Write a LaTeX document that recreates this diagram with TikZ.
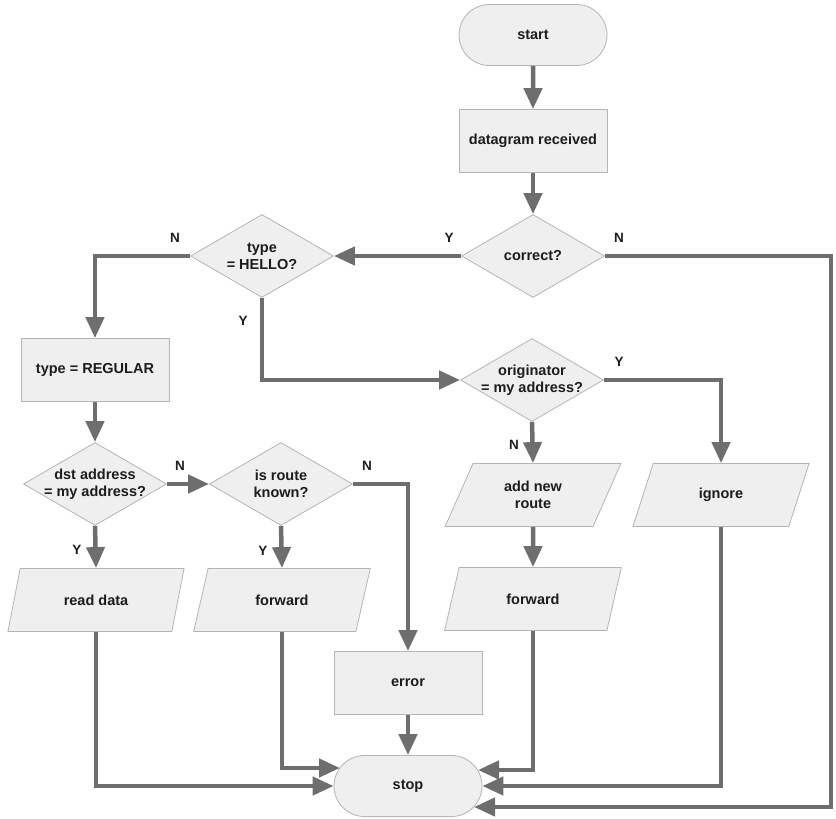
\documentclass[tikz,border=0pt]{standalone}
\usepackage{fontspec}
\setmainfont{Liberation Sans}
\usetikzlibrary{shapes.geometric,shapes.misc,arrows.meta,calc}
\definecolor{boxfill}{HTML}{EFEFEF}
\definecolor{boxline}{HTML}{B4B4B4}
\definecolor{conn}{HTML}{6E6E6E}
\definecolor{txt}{HTML}{1C1C1C}
\begin{document}
\begin{tikzpicture}[x=1pt,y=-1pt,
  every node/.style={font=\fontsize{14.5}{17}\selectfont\bfseries, text=txt, align=center},
  base/.style={draw=boxline, fill=boxfill, line width=0.8pt, inner sep=0pt},
  term/.style={base, rounded rectangle, minimum width=148pt, minimum height=61pt},
  proc/.style={base, rectangle, minimum width=148pt, minimum height=63pt},
  decide/.style={base, diamond, aspect=1.73, inner sep=-6pt, minimum width=143pt, minimum height=83pt},
  io/.style={base, trapezium, trapezium left angle=64, trapezium right angle=116,
             trapezium stretches=true, minimum width=177pt, minimum height=63pt},
  arr/.style={draw=conn, line width=4.5pt, -{Triangle[length=21pt,width=18pt]}},
  lbl/.style={font=\fontsize{13.5}{16}\selectfont\bfseries, text=txt}]
\useasboundingbox (0,0) rectangle (836,819);

\node[term] (start) at (533,35) {start};
\node[proc] (recv) at (533,141) {datagram received};
\node[decide] (correct) at (533,256) {correct?};
\node[decide] (hello) at (262,256) {type\\= HELLO?};
\node[proc] (regular) at (95,370) {type = REGULAR};
\node[decide] (orig) at (532,380) {originator\\= my address?};
\node[io] (addroute) at (533,495) {add new\\route};
\node[io] (ignore) at (721,495) {ignore};
\node[io] (fwdR) at (533,599) {forward};
\node[decide] (dst) at (95,484) {dst address\\= my address?};
\node[decide] (known) at (281,484) {is route\\known?};
\node[io] (readdata) at (96,600) {read data};
\node[io] (fwdL) at (282,600) {forward};
\node[proc] (error) at (408,683) {error};
\node[term] (stop) at (408,786) {stop};

\coordinate (sL) at ($(stop.center)+(-68,-18)$);
\coordinate (sR1) at ($(stop.center)+(70,-16)$);
\coordinate (sR3) at ($(stop.center)+(66,21)$);

\draw[arr] (start) -- (recv);
\draw[arr] (recv) -- (correct);
\draw[arr] (correct.west) -- (hello.east);
\draw[arr] (correct.east) -- ++(226,0) |- (sR3);
\draw[arr] (hello.west) -| (regular.north);
\draw[arr] (hello.south) |- (orig.west);
\draw[arr] (orig.east) -| (ignore.north);
\draw[arr] (orig.south) -- (addroute.north);
\draw[arr] (addroute.south) -- (fwdR.north);
\draw[arr] (fwdR.south) |- (sR1);
\draw[arr] (ignore.south) |- (stop.east);
\draw[arr] (regular.south) -- (dst.north);
\draw[arr] (dst.east) -- (known.west);
\draw[arr] (dst.south) -- (readdata.north);
\draw[arr] (known.south) -- (fwdL.north);
\draw[arr] (known.east) -| (error.north);
\draw[arr] (error.south) -- (stop.north);
\draw[arr] (readdata.south) |- (stop.west);
\draw[arr] (fwdL.south) |- (sL);

\node[lbl] (lY1) at (449,238) {Y};
\node[lbl] (lN1) at (619,238) {N};
\node[lbl] (lN2) at (175,238) {N};
\node[lbl] (lY2) at (243,321) {Y};
\node[lbl] (lY3) at (619,362) {Y};
\node[lbl] (lN3) at (514,445) {N};
\node[lbl] (lN4) at (180,466) {N};
\node[lbl] (lN5) at (367,466) {N};
\node[lbl] (lY4) at (77,550) {Y};
\node[lbl] (lY5) at (263,551) {Y};
\end{tikzpicture}
\end{document}
